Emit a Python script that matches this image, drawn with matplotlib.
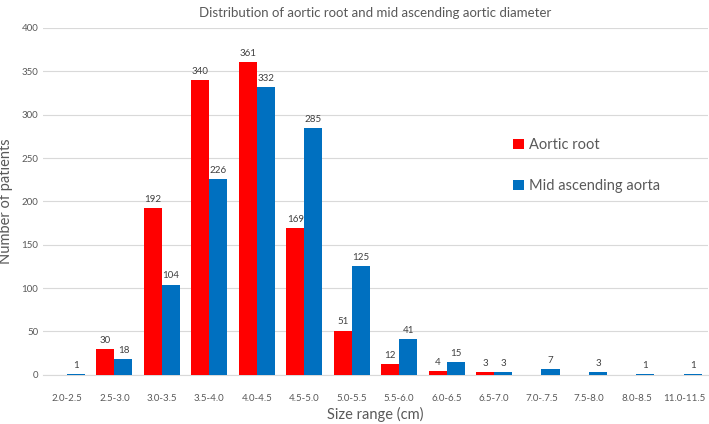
import numpy as np
import matplotlib.pyplot as plt

# ---- data ----
size_ranges = ["2.0-2.5", "2.5-3.0", "3.0-3.5", "3.5-4.0", "4.0-4.5", "4.5-5.0",
               "5.0-5.5", "5.5-6.0", "6.0-6.5", "6.5-7.0", "7.0-.7.5", "7.5-8.0",
               "8.0-8.5", "11.0-11.5"]
aortic_root = [0, 30, 192, 340, 361, 169, 51, 12, 4, 3, 0, 0, 0, 0]
mid_ascending = [1, 18, 104, 226, 332, 285, 125, 41, 15, 3, 7, 3, 1, 1]

plt.rcParams["font.family"] = ["Lato", "DejaVu Sans"]
text_col = "#595959"

fig = plt.figure(figsize=(7.09, 4.24), dpi=100)
ax = fig.add_axes([0.061, 0.116, 0.937, 0.818])

x = np.arange(len(size_ranges))
width = 0.38

b1 = ax.bar(x - width/2, aortic_root, width=width, color="#FF0000", label="Aortic root", zorder=3)
b2 = ax.bar(x + width/2, mid_ascending, width=width, color="#0070C0", label="Mid ascending aorta", zorder=3)

# value labels (skip zeros)
for bars, vals in [(b1, aortic_root), (b2, mid_ascending)]:
    for rect, v in zip(bars, vals):
        if v > 0:
            ax.annotate(str(v), (rect.get_x() + rect.get_width()/2, v),
                        xytext=(0, 3), textcoords="offset points",
                        ha="center", va="bottom", fontsize=7, color="#404040")

ax.set_xlim(-0.5, len(size_ranges) - 0.5)
ax.set_ylim(0, 400)
ax.set_yticks(range(0, 401, 50))
ax.set_xticks(x)
ax.set_xticklabels(size_ranges)
ax.tick_params(axis="both", length=0, labelsize=7, colors=text_col)
ax.tick_params(axis="x", pad=14)
ax.grid(axis="y", color="#D9D9D9", linewidth=0.8, zorder=0)
for s in ["top", "right", "left"]:
    ax.spines[s].set_visible(False)
ax.spines["bottom"].set_color("#D9D9D9")

ax.set_xlabel("Size range (cm)", fontsize=10.5, color=text_col, labelpad=3)
ax.set_ylabel("Number of patients", fontsize=10.5, color=text_col, labelpad=6)
ax.set_title("Distribution of aortic root and mid ascending aortic diameter",
             fontsize=9.5, color=text_col, pad=8)

ax.legend(loc="upper left", bbox_to_anchor=(0.688, 0.72), frameon=False,
          fontsize=10.5, labelcolor=text_col, handlelength=0.7, handleheight=0.7,
          handletextpad=0.4, labelspacing=1.85)

fig.savefig("out.png", dpi=100)
